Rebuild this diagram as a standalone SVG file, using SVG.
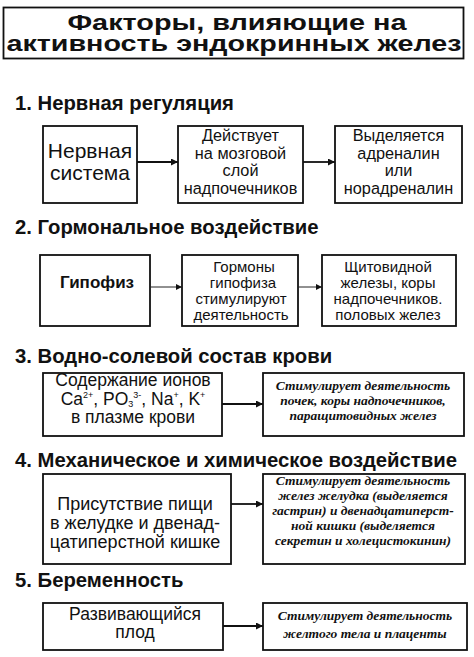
<svg xmlns="http://www.w3.org/2000/svg" width="474" height="657" viewBox="0 0 474 657">
<style>
.box{fill:#fff;stroke:#111;stroke-width:1.8}
.t{font-family:"Liberation Sans",Arial,sans-serif;fill:#111;text-anchor:middle}
.h{font-family:"Liberation Sans",Arial,sans-serif;font-weight:bold;font-size:20.3px;fill:#111}
.it{font-family:"Liberation Serif","Times New Roman",serif;font-style:italic;font-weight:bold;font-size:13.5px;fill:#111;text-anchor:middle}
.c{stroke:#111;stroke-width:1.8;fill:none}
.c2{stroke:#222;stroke-width:1;fill:none}
</style>
<defs>
<marker id="ah" viewBox="0 0 10 10" refX="10" refY="5" markerWidth="9" markerHeight="7" markerUnits="userSpaceOnUse" orient="auto"><path d="M0,0 L10,5 L0,10 Z" fill="#111"/></marker>
<marker id="ah2" viewBox="0 0 10 10" refX="10" refY="5" markerWidth="6" markerHeight="6" markerUnits="userSpaceOnUse" orient="auto"><path d="M0,0 L10,5 L0,10 Z" fill="#111"/></marker>
</defs>
<rect width="474" height="657" fill="#fff"/>
<g id="title">
<rect class="box" x="3.5" y="7.5" width="460" height="51" stroke-width="2"/>
<text class="t" x="237" y="30" font-size="22" font-weight="bold" textLength="339" lengthAdjust="spacingAndGlyphs">Факторы, влияющие на</text>
<text class="t" x="234" y="51" font-size="22" font-weight="bold" textLength="455" lengthAdjust="spacingAndGlyphs">активность эндокринных желез</text>
</g>
<g id="headings">
<text class="h" x="15" y="110">1. Нервная регуляция</text>
<text class="h" x="15" y="234">2. Гормональное воздействие</text>
<text class="h" x="15" y="363">3. Водно-солевой состав крови</text>
<text class="h" x="15" y="467">4. Механическое и химическое воздействие</text>
<text class="h" x="15" y="587">5. Беременность</text>
</g>
<g id="n1a"><rect class="box" x="43" y="126" width="94" height="77"/>
<text class="t" font-size="21" x="90" y="158">Нервная</text><text class="t" font-size="21" x="90" y="180">система</text></g>
<g id="n1b"><rect class="box" x="178" y="126" width="125" height="77"/>
<text class="t" font-size="16.3"><tspan x="240.5" y="141">Действует</tspan><tspan x="240.5" y="158.5">на мозговой</tspan><tspan x="240.5" y="176">слой</tspan><tspan x="240.5" y="193.5">надпочечников</tspan></text></g>
<g id="n1c"><rect class="box" x="335" y="126" width="127" height="77"/>
<text class="t" font-size="16.3"><tspan x="398.5" y="141">Выделяется</tspan><tspan x="398.5" y="158.5">адреналин</tspan><tspan x="398.5" y="176">или</tspan><tspan x="398.5" y="193.5">норадреналин</tspan></text></g>
<g id="n2a"><rect class="box" x="40" y="255" width="110" height="71"/>
<text class="t" font-size="17" font-weight="bold" x="97" y="288">Гипофиз</text></g>
<g id="n2b"><rect class="box" x="182" y="255" width="116" height="71"/>
<text class="t" font-size="15"><tspan x="244" y="272">Гормоны</tspan><tspan x="243" y="288">гипофиза</tspan><tspan x="241" y="304">стимулируют</tspan><tspan x="241" y="320">деятельность</tspan></text></g>
<g id="n2c"><rect class="box" x="322" y="255" width="134" height="71"/>
<text class="t" font-size="15"><tspan x="388" y="272">Щитовидной</tspan><tspan x="388" y="288">железы, коры</tspan><tspan x="388" y="304">надпочечников.</tspan><tspan x="388" y="320">половых желез</tspan></text></g>
<g id="n3a"><rect class="box" x="43" y="373" width="179" height="63"/>
<text class="t" font-size="17.5"><tspan x="133" y="386">Содержание ионов</tspan><tspan x="133" y="404.5">Ca<tspan font-size="9" dy="-7">2+</tspan><tspan dy="7">, PO</tspan><tspan font-size="9" dy="2">3</tspan><tspan font-size="9" dy="-9">3-</tspan><tspan dy="7">, Na</tspan><tspan font-size="9" dy="-7">+</tspan><tspan dy="7">, K</tspan><tspan font-size="9" dy="-7">+</tspan></tspan><tspan x="133" y="423">в плазме крови</tspan></text></g>
<g id="n3b"><rect class="box" x="263" y="373" width="201" height="63"/>
<text class="it"><tspan x="363" y="390">Стимулирует деятельность</tspan><tspan x="363" y="405">почек, коры надпочечников,</tspan><tspan x="363" y="420">паращитовидных желез</tspan></text></g>
<g id="n4a"><rect class="box" x="43" y="474" width="188" height="90"/>
<text class="t" font-size="18"><tspan x="135" y="510">Присутствие пищи</tspan><tspan x="135" y="529">в желудке и двенад-</tspan><tspan x="135" y="548">цатиперстной кишке</tspan></text></g>
<g id="n4b"><rect class="box" x="263" y="474" width="202" height="90"/>
<text class="it"><tspan x="363" y="485">Стимулирует деятельность</tspan><tspan x="363" y="500">желез желудка (выделяется</tspan><tspan x="363" y="515">гастрин) и двенадцатиперст-</tspan><tspan x="363" y="530">ной кишки (выделяется</tspan><tspan x="363" y="545">секретин и холецистокинин)</tspan></text></g>
<g id="n5a"><rect class="box" x="43" y="603" width="180" height="47"/>
<text class="t" font-size="17.5"><tspan x="135" y="620">Развивающийся</tspan><tspan x="135" y="638">плод</tspan></text></g>
<g id="n5b"><rect class="box" x="263" y="603" width="204" height="47"/>
<text class="it"><tspan x="365" y="620">Стимулирует деятельность</tspan><tspan x="365" y="638">желтого тела и плаценты</tspan></text></g>
<g id="connectors">
<line class="c" x1="137" y1="162" x2="178" y2="162" marker-end="url(#ah)"/>
<line class="c" x1="303" y1="162" x2="335" y2="162" marker-end="url(#ah)"/>
<line class="c2" x1="150" y1="287" x2="182" y2="287" marker-end="url(#ah2)"/>
<line class="c2" x1="298" y1="287" x2="322" y2="287" marker-end="url(#ah2)"/>
<line class="c" x1="222" y1="404" x2="263" y2="404" marker-end="url(#ah)"/>
<line class="c" x1="231" y1="504" x2="263" y2="504" marker-end="url(#ah)"/>
<line class="c" x1="223" y1="626" x2="263" y2="626" marker-end="url(#ah)"/>
</g>
</svg>
